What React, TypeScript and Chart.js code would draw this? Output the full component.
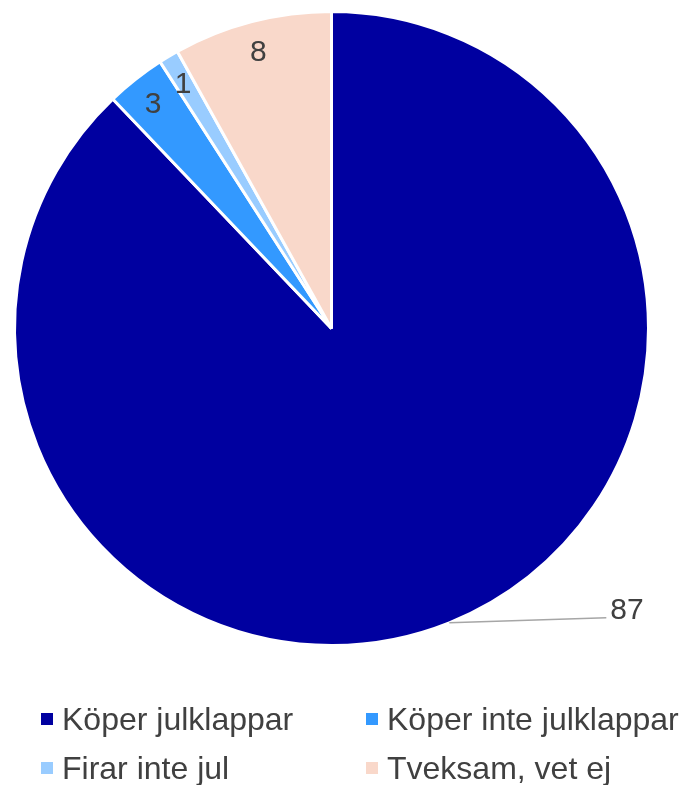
import React, { useEffect, useRef } from "react";
import { Chart, registerables } from "chart.js";

Chart.register(...registerables);

const categories = ["Köper julklappar", "Köper inte julklappar", "Firar inte jul", "Tveksam, vet ej"];
const values = [87, 3, 1, 8];
const colors = ["#0000A0", "#3399FF", "#99CCFF", "#F9D8CA"];

const FONT = "Arial, 'Liberation Sans', sans-serif";
const TEXT_COLOR = "#404040";

const labelPlugin = {
  id: "sliceLabels",
  afterDatasetsDraw(chart: any) {
    const ctx = chart.ctx;
    const meta = chart.getDatasetMeta(0);
    ctx.save();
    ctx.font = `30px ${FONT}`;
    ctx.fillStyle = TEXT_COLOR;
    meta.data.forEach((arc: any, i: number) => {
      const p = arc.getProps(["x", "y", "startAngle", "endAngle", "outerRadius"], true);
      const mid = (p.startAngle + p.endAngle) / 2;
      const value = String(chart.data.datasets[0].data[i]);
      if (i === 0) {
        const sx = p.x + p.outerRadius * Math.cos(mid);
        const sy = p.y + p.outerRadius * Math.sin(mid);
        const ex = sx + 157;
        const ey = sy - 5;
        ctx.strokeStyle = "#A6A6A6";
        ctx.lineWidth = 1.5;
        ctx.beginPath();
        ctx.moveTo(sx, sy);
        ctx.lineTo(ex, ey);
        ctx.stroke();
        ctx.textAlign = "left";
        ctx.textBaseline = "alphabetic";
        ctx.fillText(value, ex + 4, ey + 1);
      } else {
        const r = p.outerRadius - 30;
        ctx.textAlign = "center";
        ctx.textBaseline = "middle";
        ctx.fillText(value, p.x + r * Math.cos(mid) - 1, p.y + r * Math.sin(mid) + 2);
      }
    });
    ctx.restore();
  },
};

const legendPlugin = {
  id: "gridLegend",
  afterDraw(chart: any) {
    const ctx = chart.ctx;
    const cols = [41, 366];
    const rows = [730, 779];
    ctx.save();
    ctx.font = `32px ${FONT}`;
    ctx.textAlign = "left";
    ctx.textBaseline = "alphabetic";
    chart.data.labels.forEach((label: string, i: number) => {
      const x = cols[i % 2];
      const y = rows[Math.floor(i / 2)];
      ctx.fillStyle = chart.data.datasets[0].backgroundColor[i];
      ctx.fillRect(x, y - 17, 12, 12);
      ctx.fillStyle = TEXT_COLOR;
      ctx.fillText(label, x + 21, y);
    });
    ctx.restore();
  },
};

export default function App() {
  const ref = useRef<HTMLCanvasElement | null>(null);
  useEffect(() => {
    document.body.style.margin = "0";
    const chart = new Chart(ref.current as HTMLCanvasElement, {
      type: "pie",
      data: {
        labels: categories,
        datasets: [
          {
            data: values,
            backgroundColor: colors,
            borderColor: "#FFFFFF",
            borderWidth: 3,
          },
        ],
      },
      options: {
        animation: false,
        responsive: false,
        maintainAspectRatio: false,
        layout: { padding: { top: 10, left: 13, right: 30, bottom: 138 } },
        plugins: {
          legend: { display: false },
          tooltip: { enabled: false },
        },
      },
      plugins: [labelPlugin, legendPlugin],
    });
    return () => chart.destroy();
  }, []);
  return (
    <div style={{ width: 680, height: 785 }}>
      <canvas ref={ref} width={680} height={785} style={{ display: "block" }} />
    </div>
  );
}
